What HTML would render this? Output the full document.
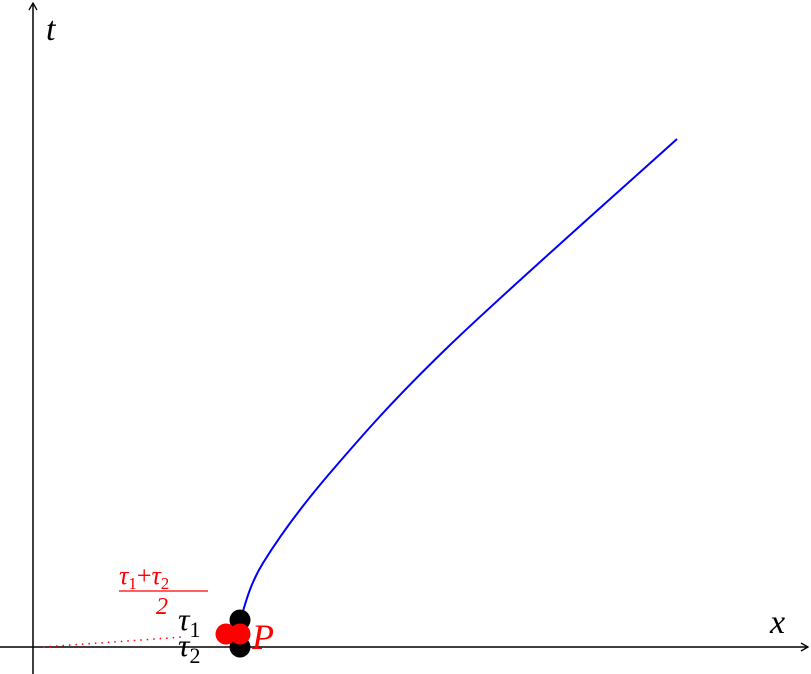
<!DOCTYPE html>
<html><head><meta charset="utf-8"><style>
body{margin:0;background:#fff;width:811px;height:674px;overflow:hidden}
svg{display:block}
text{font-family:"Liberation Serif","DejaVu Serif",serif;font-style:italic}
</style></head><body>
<svg id="chart" width="811" height="674" viewBox="0 0 811 674">
<defs><marker id="ar" markerWidth="10" markerHeight="10" refX="8" refY="5" orient="auto" markerUnits="userSpaceOnUse"><path d="M1,1 L8,5 L1,9" fill="none" stroke="#000" stroke-width="1.3"/></marker></defs>
<line x1="0" y1="647" x2="808" y2="647" stroke="#000" stroke-width="1.5" marker-end="url(#ar)"/>
<line x1="33" y1="674" x2="33" y2="3" stroke="#000" stroke-width="1.5" marker-end="url(#ar)"/>
<text x="770" y="633" font-size="34">x</text>
<text x="46" y="40" font-size="34">t</text>
<g id="marks"></g>
<text x="178" y="630" font-size="32">τ<tspan font-style="normal" font-size="22" dy="7">1</tspan></text>
<text x="178" y="656" font-size="32">τ<tspan font-style="normal" font-size="22" dy="7">2</tspan></text>
<text x="252" y="649" font-size="36" fill="#f00">P</text>
<g fill="#f00">
<text x="119" y="584" font-size="26">τ<tspan font-style="normal" font-size="17" dy="5">1</tspan><tspan font-style="normal" font-size="26" dy="-5">+</tspan>τ<tspan font-style="normal" font-size="17" dy="5">2</tspan></text>
<line x1="119" y1="591" x2="208" y2="591" stroke="#f00" stroke-width="1.3"/>
<text x="156" y="614" font-size="24" font-style="normal">2</text>
</g>
</svg>
<script>
const curveX=[2.08,2.30,2.97,4.17,6.44];
const curveT=[0.30,0.84,1.74,3.02,5.08];
const blackX=[2.07,2.07];
const blackT=[0.27,0.0];
const redX=[1.93,2.07];
const redT=[0.13,0.13];
const dottedX=[0.1,1.5];
const dottedT=[0.0,0.1];
const sx=v=>33+v*100, sy=v=>647-v*100;
const NS="http://www.w3.org/2000/svg", g=document.getElementById('marks');
const P=curveX.map((x,i)=>[sx(x),sy(curveT[i])]);
let d='M'+P[0][0]+','+P[0][1];
for(let i=0;i<P.length-1;i++){const p0=P[Math.max(i-1,0)],p1=P[i],p2=P[i+1],p3=P[Math.min(i+2,P.length-1)];
d+=' C'+(p1[0]+(p2[0]-p0[0])/6)+','+(p1[1]+(p2[1]-p0[1])/6)+' '+(p2[0]-(p3[0]-p1[0])/6)+','+(p2[1]-(p3[1]-p1[1])/6)+' '+p2[0]+','+p2[1];}
const p=document.createElementNS(NS,'path');
p.setAttribute('d',d);p.setAttribute('fill','none');p.setAttribute('stroke','#00f');p.setAttribute('stroke-width','2');


g.appendChild(p);
const l=document.createElementNS(NS,'line');
l.setAttribute('x1',sx(dottedX[0]));l.setAttribute('y1',sy(dottedT[0]));l.setAttribute('x2',sx(dottedX[1]));l.setAttribute('y2',sy(dottedT[1]));
l.setAttribute('stroke','#f00');l.setAttribute('stroke-width','1.5');l.setAttribute('stroke-dasharray','1.5 5');


g.appendChild(l);
blackX.forEach((x,i)=>{const c=document.createElementNS(NS,'circle');
c.setAttribute('cx',sx(x));c.setAttribute('cy',sy(blackT[i]));c.setAttribute('r','10.5');c.setAttribute('fill','#000');


g.appendChild(c);});
redX.forEach((x,i)=>{const c=document.createElementNS(NS,'circle');
c.setAttribute('cx',sx(x));c.setAttribute('cy',sy(redT[i]));c.setAttribute('r','10.5');c.setAttribute('fill','#f00');


g.appendChild(c);});
</script>
</body></html>
